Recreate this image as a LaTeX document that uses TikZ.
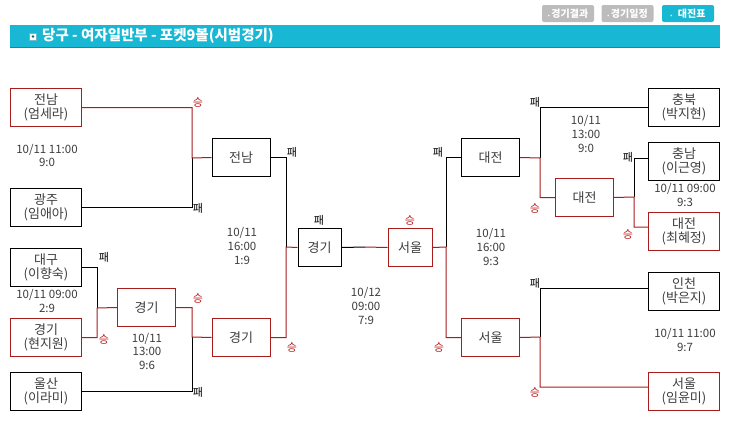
\documentclass[tikz,border=0pt]{standalone}
\usepackage{fontspec}
\setmainfont{Noto Sans CJK KR}
\usetikzlibrary{calc}
\definecolor{wred}{RGB}{168,28,28}
\definecolor{lred}{RGB}{185,30,30}
\definecolor{barc}{RGB}{24,183,211}
\definecolor{barline}{RGB}{14,140,165}
\definecolor{txt}{RGB}{62,62,62}
\definecolor{btngray}{RGB}{188,188,188}
\begin{document}
\begin{tikzpicture}[x=1pt,y=-1pt,
  team/.style={draw=black, line width=1pt, minimum width=71pt, minimum height=38pt, inner sep=0pt, align=center, text=txt, font=\fontsize{13}{14.5}\selectfont},
  wteam/.style={team, draw=wred},
  mbox/.style={team, minimum width=58pt},
  wmbox/.style={mbox, draw=wred},
  info/.style={inner sep=0pt, align=center, text=txt, font=\fontsize{11.5}{13.8}\selectfont},
  winl/.style={inner sep=0pt, text=lred, font=\fontsize{11}{11}\selectfont},
  losel/.style={inner sep=0pt, text=black, font=\fontsize{11}{11}\selectfont},
  wline/.style={draw=wred, line width=1pt},
  lline/.style={draw=black, line width=1pt},
  btn/.style={fill=btngray, rounded corners=2pt, minimum width=52pt, minimum height=17pt, inner sep=0pt, text=white, font=\bfseries\fontsize{10}{10}\selectfont}
]
\useasboundingbox (0,0) rectangle (730,434);
\fill[white] (0,0) rectangle (730,434);

% header
\node[btn] (b1) at (568,13.5) {{\fontsize{5}{5}\selectfont•}\,경기결과};
\node[btn] (b2) at (627.5,13.5) {{\fontsize{5}{5}\selectfont•}\,경기일정};
\node[btn, fill=barc] (b3) at (688,13.5) {{\fontsize{5}{5}\selectfont•}\;\;대진표};
\node[fill=barc, minimum width=710pt, minimum height=22pt, inner sep=0pt, anchor=north west] (hdr) at (10,25) {};
\draw[barline, line width=1.2pt] (hdr.south west) -- (hdr.south east);
\node[fill=white, draw=barline!60, line width=0.5pt, minimum size=7pt, inner sep=0pt] (icon) at (33,36.5) {};
\fill[barline!70!black] (icon.center) circle (1.3pt);
\node[anchor=west, inner sep=0pt, text=white, font=\bfseries\fontsize{14.5}{15}\selectfont] (title) at (42,36) {당구 - 여자일반부 - 포켓9볼(시범경기)};

% left bracket boxes
\node[wteam] (A) at (46,107.5) {전남\\(엄세라)};
\node[team]  (B) at (46,207.5) {광주\\(임애아)};
\node[team]  (D) at (46,267.5) {대구\\(이향숙)};
\node[wteam] (E) at (46,337.5) {경기\\(현지원)};
\node[team]  (G) at (46,391.5) {울산\\(이라미)};
\node[mbox]  (C) at (241,157.5) {전남};
\node[wmbox] (F) at (146.5,307.5) {경기};
\node[wmbox] (H) at (241,337.5) {경기};
\node[mbox, minimum width=43pt] (I) at (319.5,247.5) {경기};
\node[wmbox, minimum width=44pt] (J) at (410,247.5) {서울};

% right bracket boxes
\node[team]  (K) at (684,107.5) {충북\\(박지현)};
\node[team]  (L) at (684,161.5) {충남\\(이근영)};
\node[wteam] (M) at (684,231.5) {대전\\(최혜정)};
\node[team]  (P) at (684,291.5) {인천\\(박은지)};
\node[wteam] (Q) at (684,391.5) {서울\\(임윤미)};
\node[mbox]  (O) at (490.5,157.5) {대전};
\node[wmbox] (N) at (584.5,197.5) {대전};
\node[wmbox] (R) at (490.5,337.5) {서울};

% junctions
\coordinate (j1) at (192,158);
\coordinate (j2) at (97,308);
\coordinate (j3) at (192,337);
\coordinate (j4) at (286,247);
\coordinate (jm) at (365,247);
\coordinate (j5) at (634,197);
\coordinate (j6) at (540,158);
\coordinate (j7) at (540,337);
\coordinate (j8) at (446,247);

% left connectors
\draw[lline] (B.east) -| (j1);
\draw[wline] (A.east) -| (j1) -- (C.west);
\draw[lline] (D.east) -| (j2);
\draw[wline] (E.east) -| (j2) -- (F.west);
\draw[lline] (G.east) -| (j3);
\draw[wline] (F.east) -| (j3) -- (H.west);
\draw[lline] (C.east) -| (j4);
\draw[wline] (H.east) -| (j4) -- (I.west);
\draw[lline] (I.east) -- (jm);
\draw[wline] (jm) -- (J.west);

% right connectors
\draw[lline] ([yshift=3.5pt]L.west) -| (j5);
\draw[wline] ([yshift=4.5pt]M.west) -| (j5) -- (N.east);
\draw[lline] (K.west) -| (j6);
\draw[wline] (N.west) -| (j6) -- (O.east);
\draw[lline] ([yshift=3.5pt]P.west) -| (j7);
\draw[wline] ([yshift=4.5pt]Q.west) -| (j7) -- (R.east);
\draw[lline] (O.west) -| (j8);
\draw[wline] (R.west) -| (j8) -- (J.east);

% win / lose labels
\node[winl]  (l1) at (198,102) {승};
\node[losel] (l2) at (198,208) {패};
\node[losel] (l3) at (104,257) {패};
\node[winl]  (l4) at (104,339) {승};
\node[winl]  (l5) at (198,298) {승};
\node[losel] (l6) at (198,392) {패};
\node[losel] (l7) at (292,152) {패};
\node[winl]  (l8) at (292,347) {승};
\node[losel] (l9) at (319,220) {패};
\node[winl]  (l10) at (410,220) {승};
\node[losel] (r1) at (438,152) {패};
\node[winl]  (r2) at (439,347) {승};
\node[losel] (r3) at (535,102) {패};
\node[winl]  (r4) at (535,208) {승};
\node[losel] (r5) at (628,157) {패};
\node[winl]  (r6) at (628,234) {승};
\node[losel] (r7) at (535,283) {패};
\node[winl]  (r8) at (535,392) {승};

% match info
\node[info] (t1) at (47,155.5) {10/11 11:00\\9:0};
\node[info] (t2) at (47,301) {10/11 09:00\\2:9};
\node[info] (t3) at (147,351.5) {10/11\\13:00\\9:6};
\node[info] (t4) at (242,246) {10/11\\16:00\\1:9};
\node[info] (t5) at (366,306) {10/12\\09:00\\7:9};
\node[info] (t6) at (491,247) {10/11\\16:00\\9:3};
\node[info] (t7) at (586,134) {10/11\\13:00\\9:0};
\node[info] (t8) at (685,195) {10/11 09:00\\9:3};
\node[info] (t9) at (685,340) {10/11 11:00\\9:7};
\end{tikzpicture}
\end{document}
